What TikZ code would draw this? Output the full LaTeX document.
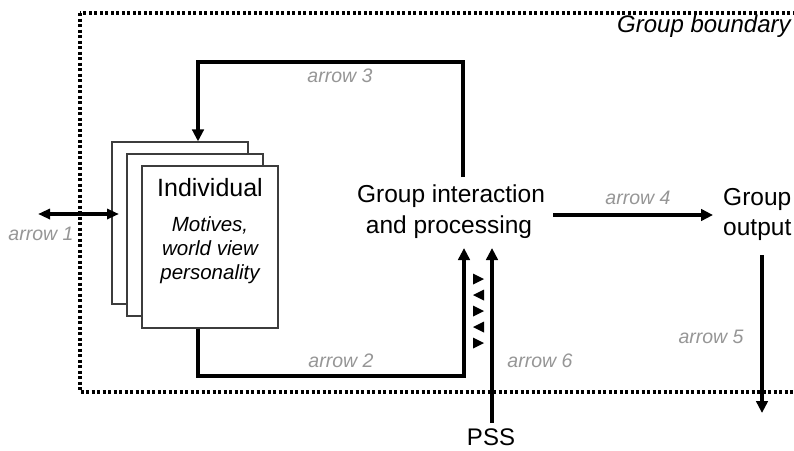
\documentclass[tikz,border=0pt]{standalone}
\usepackage{fontspec}
\setmainfont{Liberation Sans}
\usetikzlibrary{arrows.meta}
\definecolor{labelgray}{RGB}{150,150,150}
\definecolor{boxline}{RGB}{60,60,60}
\tikzset{
  flow/.style={line width=3.6pt, -{Triangle[length=12pt,width=11.5pt]}},
  dflow/.style={line width=3.4pt, {Triangle[length=12pt,width=10pt]}-{Triangle[length=12pt,width=10pt]}},
  indbox/.style={draw=boxline, line width=1.2pt, fill=white, minimum width=136pt, minimum height=162pt, inner sep=0pt},
  boundary/.style={line width=3.2pt, dash pattern=on 3pt off 2.5pt},
  lbl/.style={text=labelgray, font=\fontsize{19.5}{23}\selectfont\itshape, inner sep=0pt, anchor=base},
  big/.style={font=\fontsize{24.5}{29}\selectfont, inner sep=0pt, anchor=base},
  mid/.style={font=\fontsize{20.5}{24}\selectfont\itshape, inner sep=0pt, anchor=base},
  tri/.style={fill=black}
}
\begin{document}
\begin{tikzpicture}[x=1pt,y=-1pt]
\clip (0,0) rectangle (794,450);
\fill[white] (0,0) rectangle (794,450);

% group boundary
\draw[boundary] (80,13) rectangle (815,392);
\node[big, anchor=base west, font=\fontsize{24}{29}\selectfont\itshape] (gb) at (617,32) {Group boundary};

% individual boxes
\node[indbox] (back) at (180,223) {};
\node[indbox] (midb) at (195,235) {};
\node[indbox] (front) at (210,247) {};
\node[big, font=\fontsize{25}{29}\selectfont] (ind) at (210,196) {Individual};
\node[mid] (m1) at (210,231) {Motives,};
\node[mid] (m2) at (210,255) {world view};
\node[mid] (m3) at (210,279) {personality};

% group interaction
\node[big] (gip1) at (451,202) {Group interaction};
\node[big] (gip2) at (449,233) {and processing};

% group output
\node[big, anchor=base west] (go1) at (723,205) {Group};
\node[big, anchor=base west] (go2) at (723,235) {output};

% PSS
\node[big, font=\fontsize{24}{29}\selectfont] (pss) at (491,445) {PSS};

% coordinates
\coordinate (a1l) at (38,214);
\coordinate (a1r) at (119,214);
\coordinate (a3s) at (463,177);
\coordinate (a3t) at (198,62);
\coordinate (a2t) at (198,376);
\coordinate (a2e) at (464,248);
\coordinate (a6s) at (492,423);
\coordinate (a6e) at (492,248);
\coordinate (a4s) at (553,215);
\coordinate (a4e) at (713,215);
\coordinate (a5s) at (762,255);
\coordinate (a5e) at (762,413);

% arrows
\draw[dflow] (a1l) -- (a1r);
\draw[flow] (a3s) |- (a3t) -- (back.north -| a3t);
\draw[flow] (front.south -| a2t) -- (a2t) -| (a2e);
\draw[flow] (a6s) -- (a6e);
\draw[flow] (a4s) -- (a4e);
\draw[flow] (a5s) -- (a5e);

% small triangles
\fill[tri] (473,273.5) -- (484,279) -- (473,284.5) -- cycle;
\fill[tri] (484,289.5) -- (473,295) -- (484,300.5) -- cycle;
\fill[tri] (473,305.5) -- (484,311) -- (473,316.5) -- cycle;
\fill[tri] (484,321.5) -- (473,327) -- (484,332.5) -- cycle;
\fill[tri] (473,337.5) -- (484,343) -- (473,348.5) -- cycle;

% labels
\node[lbl] (l1) at (41,240) {arrow 1};
\node[lbl] (l2) at (341,367) {arrow 2};
\node[lbl] (l3) at (340,82) {arrow 3};
\node[lbl] (l4) at (638,204) {arrow 4};
\node[lbl] (l5) at (711,343) {arrow 5};
\node[lbl] (l6) at (540,367) {arrow 6};
\end{tikzpicture}
\end{document}
